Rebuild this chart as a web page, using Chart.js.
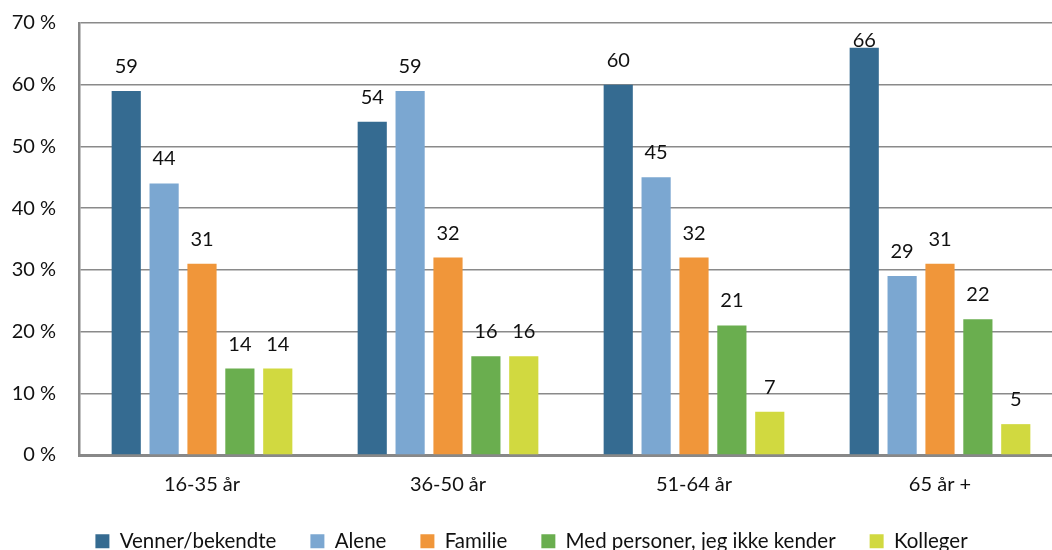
<!DOCTYPE html>
<html>
<head>
<meta charset="utf-8">
<script src="https://cdn.jsdelivr.net/npm/chart.js@4"></script>
<style>
    html, body { margin: 0; padding: 0; background: #ffffff; overflow: hidden; }
    #wrap { width: 1066px; height: 550px; position: relative; }
</style>
</head>
<body>
<div id="wrap"><canvas id="chart"></canvas></div>
<script>
    // Aldersgrupper (kategorier)
    var categories = ['16-35 år', '36-50 år', '51-64 år', '65 år +'];

    // Serier i procent
    var venner = [59, 54, 60, 66];
    var alene = [44, 59, 45, 29];
    var familie = [31, 32, 32, 31];
    var ukendte = [14, 16, 21, 22];
    var kolleger = [14, 16, 7, 5];

    var seriesNames = ['Venner/bekendte', 'Alene', 'Familie', 'Med personer, jeg ikke kender', 'Kolleger'];
    var yTicks = [0, 10, 20, 30, 40, 50, 60, 70];

    var COLORS = ['#356b91', '#7ba7d1', '#f0963a', '#6aae4f', '#d1d940'];
    var FONT = "Lato, 'Open Sans', sans-serif";

    // Tal over soejlerne
    var valueLabels = {
        id: 'valueLabels',
        afterDatasetsDraw: function (chart) {
            var ctx = chart.ctx;
            var top = chart.chartArea.top;
            ctx.save();
            ctx.font = '20px ' + FONT;
            ctx.fillStyle = '#111';
            ctx.textAlign = 'center';
            ctx.textBaseline = 'alphabetic';
            chart.data.datasets.forEach(function (ds, i) {
                var meta = chart.getDatasetMeta(i);
                meta.data.forEach(function (bar, j) {
                    var y = Math.max(bar.y - 18, top + 24);
                    ctx.fillText(String(ds.data[j]), bar.x, y);
                });
            });
            ctx.restore();
        }
    };

    var data = [venner, alene, familie, ukendte, kolleger];

    new Chart(document.getElementById('chart'), {
        type: 'bar',
        data: {
            labels: categories,
            datasets: data.map(function (vals, i) {
                return {
                    label: seriesNames[i],
                    data: vals,
                    backgroundColor: COLORS[i],
                    borderWidth: 0,
                    categoryPercentage: 0.77,
                    barPercentage: 0.77
                };
            })
        },
        options: {
            responsive: true,
            maintainAspectRatio: false,
            animation: false,
            layout: { padding: { top: 23, left: 0, right: 3, bottom: 0 } },
            plugins: {
                tooltip: { enabled: false },
                legend: {
                    position: 'bottom',
                    maxHeight: 53,
                    labels: {
                        font: { family: FONT, size: 20.5 },
                        color: '#111',
                        boxWidth: 14,
                        boxHeight: 14,
                        padding: 34
                    }
                }
            },
            scales: {
                x: {
                    grid: { display: false, drawTicks: false },
                    border: { color: '#888888', width: 3 },
                    afterFit: function (axis) { axis.height = 42; },
                    ticks: {
                        font: { family: FONT, size: 20 },
                        color: '#111',
                        padding: 18
                    }
                },
                y: {
                    min: 0,
                    max: 70,
                    afterBuildTicks: function (axis) {
                        axis.ticks = yTicks.map(function (v) { return { value: v }; });
                    },
                    afterFit: function (axis) {
                        axis.width = 79;
                        axis.paddingTop = 0;
                        axis.paddingBottom = 0;
                    },
                    grid: { color: '#8a8a8a', lineWidth: 1.5, drawTicks: false },
                    border: { color: '#888888', width: 2.5 },
                    ticks: {
                        font: { family: FONT, size: 20 },
                        color: '#111',
                        padding: 23,
                        callback: function (v) { return v + ' %'; }
                    }
                }
            }
        },
        plugins: [valueLabels]
    });
</script>
</body>
</html>
